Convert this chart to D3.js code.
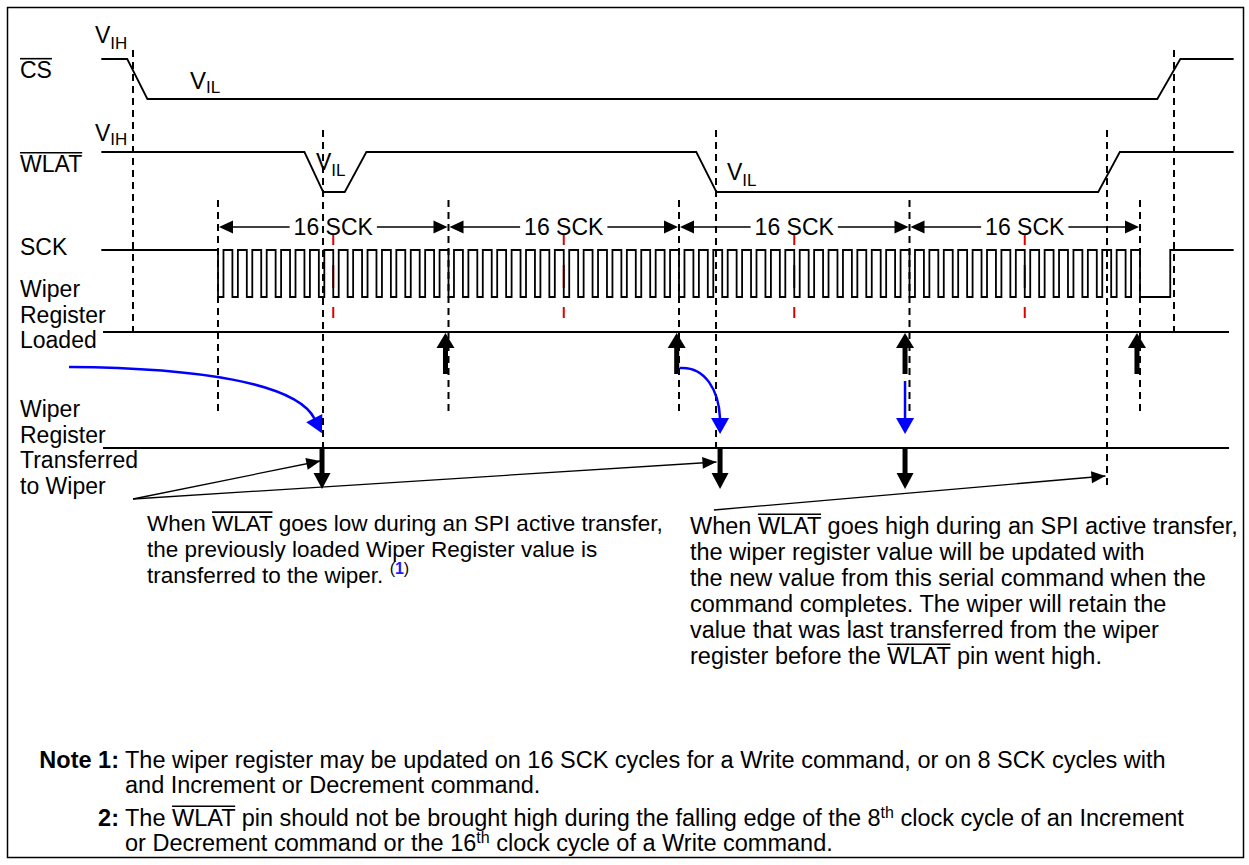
<!DOCTYPE html>
<html><head><meta charset="utf-8">
<script src="https://cdn.jsdelivr.net/npm/d3@7"></script>
<style>
body{margin:0;background:#fff}
text{font-family:"Liberation Sans",Arial,Helvetica,sans-serif;fill:#000}
</style>
</head><body>
<svg id="c" width="1249" height="865"></svg>
<script>
// ---------------- data (time unit = one SCK cycle, 0 = first SCK edge) ----------------
const sckCycles = 64;
const sckHighFraction = 0.62;
const sckIdleStart = -8.1;
const sckTailTimes = [64, 66.1, 70.5];          // low after burst, rise, end
const csTimes   = [-8.1, -6.3, -4.9, 65.2, 66.8, 70.5];
const csLevels  = [1, 1, 0, 0, 1, 1];
const wlatTimes  = [-8.1, 6.0, 7.3, 8.8, 10.3, 33.2, 34.6, 61.1, 62.6, 70.5];
const wlatLevels = [1, 1, 0, 0, 1, 1, 0, 0, 1, 1];
const markerTimes = [-5.9, 0, 7.29, 16, 32, 34.57, 48, 61.71, 64, 66.36];
const markerKinds = ['cs', 'sck', 'wlat', 'sck', 'sck', 'wlat', 'sck', 'wlatLong', 'sck', 'cs'];
const segBounds = [0, 16, 32, 48, 64];
const segLabel = '16 SCK';
const redMarkTimes = [8, 24, 40, 56];
const loadedArrowTimes = [15.79, 31.84, 47.69, 63.79];
const transferArrowTimes = [7.22, 34.85, 47.69];
const lineSpan = [-7.98, 70.18];
const blueSweep = [-10.34, 7.2];
const blueHook = [31.84, 34.85];
const blueDrop = [47.69];
const calloutLow = [-5.9, 7.1, 34.6];
const calloutHigh = [34.42, 61.6];

const labelsLoaded = ['Wiper', 'Register', 'Loaded'];
const labelsTransfer = ['Wiper', 'Register', 'Transferred', 'to Wiper'];
const block1 = [
  [{t:'When '},{t:'WLAT',over:true},{t:' goes low during an SPI active transfer,'}],
  [{t:'the previously loaded Wiper Register value is'}],
  [{t:'transferred to the wiper. '},{t:'(',sup:9,size:16},{t:'1',sup:9,size:16,bold:true,fill:'#1a1aff'},{t:')',sup:9,size:16}]
];
const block2 = [
  [{t:'When '},{t:'WLAT',over:true},{t:' goes high during an SPI active transfer,'}],
  [{t:'the wiper register value will be updated with'}],
  [{t:'the new value from this serial command when the'}],
  [{t:'command completes. The wiper will retain the'}],
  [{t:'value that was last transferred from the wiper'}],
  [{t:'register before the '},{t:'WLAT',over:true},{t:' pin went high.'}]
];
const notes = [
  {tag:'Note 1:', lines:[
    [{t:'The wiper register may be updated on 16 SCK cycles for a Write command, or on 8 SCK cycles with'}],
    [{t:'and Increment or Decrement command.'}]]},
  {tag:'2:', lines:[
    [{t:'The '},{t:'WLAT',over:true},{t:' pin should not be brought high during the falling edge of the 8'},{t:'th',sup:8,size:16},{t:' clock cycle of an Increment'}],
    [{t:'or Decrement command or the 16'},{t:'th',sup:8,size:16},{t:' clock cycle of a Write command.'}]]}
];

// ---------------- layout ----------------
const svg = d3.select('#c');
const x = d3.scaleLinear().domain([0, sckCycles]).range([218, 1140]);
const csY = d3.scaleLinear().domain([0,1]).range([99, 59]);
const wlatY = d3.scaleLinear().domain([0,1]).range([192, 152]);
const sckY = d3.scaleLinear().domain([0,1]).range([297, 250]);
const loadedY = 332, transferY = 448;
const markerSpan = {cs:[50,337], sck:[200,413], wlat:[130,447], wlatLong:[130,485]};
const FONT = 22.5;

svg.append('rect').attr('x',7.5).attr('y',7.5).attr('width',1236).attr('height',850)
  .attr('fill','none').attr('stroke','#000').attr('stroke-width',1.5);

// rich text helper
function rich(g, px, py, parts, size) {
  const t = g.append('text').attr('x',px).attr('y',py).style('font-size',size+'px');
  let cur = 0; const spans = [];
  parts.forEach(p => {
    const ts = t.append('tspan').text(p.t);
    const target = p.sup ? -p.sup : (p.sub || 0);
    if (target !== cur) { ts.attr('dy', target - cur); cur = target; }
    if (p.size) ts.style('font-size', p.size + 'px');
    if (p.bold) ts.style('font-weight', 'bold');
    if (p.fill) ts.style('fill', p.fill);
    spans.push(p);
  });
  let idx = 0; const node = t.node();
  spans.forEach(p => {
    const n = p.t.length;
    if (p.over) {
      const x0 = node.getStartPositionOfChar(idx).x;
      const x1 = node.getEndPositionOfChar(idx + n - 1).x;
      g.append('line').attr('x1',x0).attr('x2',x1)
        .attr('y1', py - size*0.84).attr('y2', py - size*0.84)
        .attr('stroke','#000').attr('stroke-width',1.6);
    }
    idx += n;
  });
  return t;
}

// markers (dashed)
const mg = svg.append('g');
markerTimes.forEach((t,i) => {
  const s = markerSpan[markerKinds[i]];
  mg.append('line').attr('x1',x(t)).attr('x2',x(t)).attr('y1',s[0]).attr('y2',s[1])
    .attr('stroke','#000').attr('stroke-width',2).attr('stroke-dasharray','7,5');
});

// red marks
redMarkTimes.forEach(t => {
  svg.append('line').attr('x1',x(t)).attr('x2',x(t)).attr('y1',235).attr('y2',318)
    .attr('stroke','#e00000').attr('stroke-width',2).attr('stroke-dasharray','10,20,23,19,11');
});

// waveforms
const line = d3.line();
function stepWave(times, levels, ys) {
  return line(times.map((t,i) => [x(t), ys(levels[i])]));
}
svg.append('path').attr('d', stepWave(csTimes, csLevels, csY)).attr('fill','none').attr('stroke','#000').attr('stroke-width',1.8);
svg.append('path').attr('d', stepWave(wlatTimes, wlatLevels, wlatY)).attr('fill','none').attr('stroke','#000').attr('stroke-width',1.8);

const sckPts = [[x(sckIdleStart), sckY(1)], [x(0), sckY(1)], [x(0), sckY(0)]];
d3.range(sckCycles).forEach(k => {
  const r = k + 1 - sckHighFraction;
  sckPts.push([x(r), sckY(0)], [x(r), sckY(1)], [x(k+1), sckY(1)], [x(k+1), sckY(0)]);
});
sckPts.push([x(sckTailTimes[1]), sckY(0)], [x(sckTailTimes[1]), sckY(1)], [x(sckTailTimes[2]), sckY(1)]);
svg.append('path').attr('d', line(sckPts)).attr('fill','none').attr('stroke','#000').attr('stroke-width',1.8);

// horizontal register lines
[loadedY, transferY].forEach(yy => {
  svg.append('line').attr('x1',x(lineSpan[0])).attr('x2',x(lineSpan[1])).attr('y1',yy).attr('y2',yy)
    .attr('stroke','#000').attr('stroke-width',2.2);
});

// arrowhead helper
function head(g, tipX, tipY, ang, len, hw, fill) {
  const bx = tipX - Math.cos(ang)*len, by = tipY - Math.sin(ang)*len;
  const px = -Math.sin(ang)*hw, py = Math.cos(ang)*hw;
  g.append('path').attr('d', `M${tipX},${tipY}L${bx+px},${by+py}L${bx-px},${by-py}Z`).attr('fill', fill);
}

// 16 SCK dimension arrows
const dimY = 227;
for (let i = 0; i < segBounds.length - 1; i++) {
  const a = x(segBounds[i]) + 1, b = x(segBounds[i+1]) - 1, m = (a + b) / 2;
  const tx = svg.append('text').attr('x', m).attr('y', dimY + 8).attr('text-anchor','middle')
    .style('font-size', '23px').text(segLabel);
  const w = tx.node().getComputedTextLength();
  svg.append('line').attr('x1',a+10).attr('x2',m - w/2 - 4).attr('y1',dimY).attr('y2',dimY).attr('stroke','#000').attr('stroke-width',1.6);
  svg.append('line').attr('x1',m + w/2 + 4).attr('x2',b-10).attr('y1',dimY).attr('y2',dimY).attr('stroke','#000').attr('stroke-width',1.6);
  head(svg, a, dimY, Math.PI, 14, 6.5, '#000');
  head(svg, b, dimY, 0, 14, 6.5, '#000');
}

// loaded (up) arrows
loadedArrowTimes.forEach(t => {
  const cx = x(t);
  svg.append('rect').attr('x',cx-2.5).attr('y',345).attr('width',5).attr('height',29).attr('fill','#000');
  head(svg, cx, loadedY + 1, -Math.PI/2, 15, 9, '#000');
});
// transfer (down) arrows
transferArrowTimes.forEach(t => {
  const cx = x(t);
  svg.append('rect').attr('x',cx-2.5).attr('y',transferY).attr('width',5).attr('height',27).attr('fill','#000');
  head(svg, cx, 489, Math.PI/2, 16, 8.5, '#000');
});

// blue arrows
const blue = '#0000ff';
{
  const x0 = x(blueSweep[0]), x1 = x(blueSweep[1]);
  const ang = Math.atan2(0.9, 0.45);
  const bx = x1 - 7, by = 419;
  svg.append('path').attr('d', `M${x0},367C${x0+130},368 ${bx-18},383 ${bx},${by}`)
    .attr('fill','none').attr('stroke',blue).attr('stroke-width',2.5);
  head(svg, bx + Math.cos(ang)*16, by + Math.sin(ang)*16, ang, 17, 9, blue);
}
{
  const x0 = x(blueHook[0]) + 3, x1 = x(blueHook[1]);
  svg.append('path').attr('d', `M${x0},368C${x0+25},366 ${x1-1},390 ${x1},419`)
    .attr('fill','none').attr('stroke',blue).attr('stroke-width',2.5);
  head(svg, x1, 434, Math.PI/2, 16, 9, blue);
}
blueDrop.forEach(t => {
  const cx = x(t);
  svg.append('line').attr('x1',cx).attr('x2',cx).attr('y1',381).attr('y2',420).attr('stroke',blue).attr('stroke-width',2.5);
  head(svg, cx, 434, Math.PI/2, 16, 9, blue);
});

// callout lines
function callout(x0, y0, x1, y1) {
  svg.append('line').attr('x1',x0).attr('y1',y0).attr('x2',x1).attr('y2',y1).attr('stroke','#000').attr('stroke-width',1.3);
  head(svg, x1, y1, Math.atan2(y1-y0, x1-x0), 14, 6, '#000');
}
callout(x(calloutLow[0]), 499, x(calloutLow[1]), 461);
callout(x(calloutLow[0]), 499, x(calloutLow[2]), 462);
callout(x(calloutHigh[0]), 510, x(calloutHigh[1]), 476);

// left labels
const lg = svg.append('g');
rich(lg, 20, 78, [{t:'CS',over:true}], 23);
rich(lg, 20, 172, [{t:'WLAT',over:true}], 23);
rich(lg, 20, 255, [{t:'SCK'}], 23);
labelsLoaded.forEach((s,i) => rich(lg, 20, 297 + i*25.7, [{t:s}], 23));
labelsTransfer.forEach((s,i) => rich(lg, 20, 417 + i*25.5, [{t:s}], 23));

// level labels
rich(lg, 95, 43, [{t:'V'},{t:'IH',sub:6,size:17}], 23);
rich(lg, 190, 89, [{t:'V'},{t:'IL',sub:4,size:17}], 24);
rich(lg, 95, 141, [{t:'V'},{t:'IH',sub:4,size:17}], 23);
rich(lg, 316, 170, [{t:'V'},{t:'IL',sub:6,size:17}], 23);
rich(lg, 727, 180, [{t:'V'},{t:'IL',sub:6,size:17}], 23);

// description blocks
block1.forEach((p,i) => rich(svg, 147, 531 + i*26, p, FONT));
block2.forEach((p,i) => rich(svg, 690, 534 + i*26, p, 23.5));

// notes
const noteBase = [768, 826];
notes.forEach((n,i) => {
  const tag = rich(svg, 125 - 6, noteBase[i], [{t:n.tag, bold:true}], 23.5);
  tag.attr('text-anchor','end');
  n.lines.forEach((p,j) => rich(svg, 125, noteBase[i] + j*25, p, 23.5));
});
</script>
</body></html>
